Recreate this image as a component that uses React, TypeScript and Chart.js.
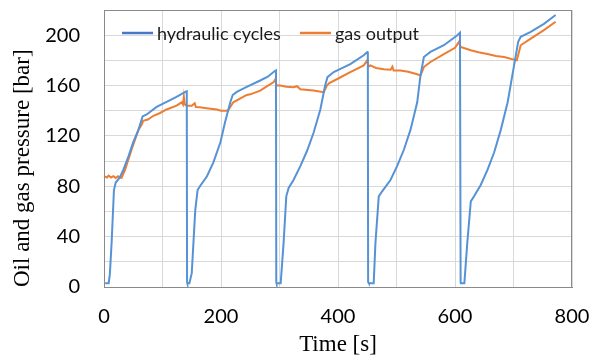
import React, { useEffect, useRef } from "react";
import { Chart, registerables } from "chart.js";

Chart.register(...registerables);

// ---- Data ----
const hydTime = [
  2, 8, 10, 13, 17, 20, 27, 33, 42, 50, 59, 66, 73, 90, 107, 124, 139, 141.5,
  142, 142.5, 146, 150, 156, 160, 164, 176, 187, 199, 207, 216, 220, 227, 244, 267, 280, 292, 294,
  294.5, 295, 302, 307, 311.6, 315.6, 324, 335.6, 347, 358.4, 369.8, 378, 382, 392.7, 421, 444, 450, 451,
  451.5, 452.7, 461, 464, 469.7, 475.5, 489.7, 501, 512.6, 524, 535.4, 541, 546.8, 558, 581, 604, 608.5,
  609.6, 610, 616, 621, 627, 632.6, 644, 655.5, 667, 678.4, 690, 701, 708, 712.3, 729.5, 752, 772,
];
const hydPressure = [
  3, 3, 10, 35, 77, 83, 87, 93, 104, 115, 125, 135.5, 137, 143, 147, 151, 155, 155.5,
  4, 3, 3, 11, 61, 77, 80, 88, 99, 115, 131, 147, 152.5, 155, 159, 164, 167, 171.5, 172,
  4, 3, 3, 35, 72, 78.7, 85, 96, 108, 122.7, 141, 160, 166.7, 170.7, 177, 184, 186.7, 187,
  4, 3, 3, 35, 72, 76, 85, 96, 109, 125, 146.7, 168, 182.7, 186.7, 192, 200, 202,
  4, 3, 3, 35, 68, 72, 81, 93, 107, 125, 146.7, 176, 194.7, 198.7, 202.7, 209, 216,
];

const gasTime = [
  0, 5, 8, 12, 16, 20, 24, 27, 30, 36, 47, 59, 64.5, 67, 75, 84.5, 95, 107, 124, 133, 135, 136.5, 138,
  141.5, 150, 155, 157, 164, 175, 193, 200, 210, 213, 221, 244, 250, 267, 290, 292.8, 295, 301, 312,
  324, 330, 335.6, 358, 375.6, 381, 385, 398, 421, 444, 450, 452, 455.5, 465, 478.3, 490, 493, 495,
  506.8, 520, 535.4, 541, 546.8, 558, 581, 600, 606.8, 609.6, 627, 640, 655.5, 670, 684, 705.7, 712.3,
  729.5, 752, 772,
];
const gasPressure = [
  88, 87, 88.5, 87, 88, 86.5, 88, 87, 86.7, 93, 109, 125, 129, 132, 133, 136, 138, 141, 144, 146.7, 145, 151, 145,
  144, 144, 146, 143, 142.7, 142, 141, 140, 140, 141, 146.7, 152.5, 153, 156, 162.7, 165, 160, 160, 159,
  158.7, 159.5, 157, 156, 154.7, 160, 162, 165, 170.7, 176, 180, 175, 176, 174, 173, 172.5, 175, 172,
  172, 171, 169, 168, 174.7, 178.7, 185, 190, 194.7, 190.7, 188, 186.5, 185, 183.5, 182.7, 180, 192,
  197.3, 204, 210.7,
];

const seriesLabels = ["hydraulic cycles", "gas output"];
const seriesColors = ["#5592d6", "#ED7D31"];
const legendColors = ["#4677c8", "#ED7D31"];

const xTitle = "Time [s]";
const yTitle = "Oil and gas pressure [bar]";

const toPoints = (xs: number[], ys: number[]) => xs.map((x, i) => ({ x, y: ys[i] }));

const frameAndLegend = {
  id: "frameAndLegend",
  afterDatasetsDraw(chart: any) {
    const { ctx, chartArea } = chart;
    const { left, top, right, bottom } = chartArea;
    ctx.save();
    ctx.strokeStyle = "#8a8a8a";
    ctx.lineWidth = 1;
    ctx.strokeRect(left + 0.5, top + 0.5, right - left - 1, bottom - top);
    const y = top + 23;
    const starts = [18, 196];
    ctx.font = "18px Lato";
    ctx.textBaseline = "middle";
    chart.data.datasets.forEach((ds: any, i: number) => {
      const x = left + starts[i];
      ctx.strokeStyle = legendColors[i];
      ctx.lineWidth = 2.5;
      ctx.beginPath();
      ctx.moveTo(x, y);
      ctx.lineTo(x + 31, y);
      ctx.stroke();
      ctx.fillStyle = "#1a1a1a";
      ctx.textAlign = "left";
      ctx.fillText(ds.label, x + 35, y + 1);
    });
    ctx.restore();
  },
};

export default function App() {
  const canvasRef = useRef<HTMLCanvasElement | null>(null);

  useEffect(() => {
    document.body.style.margin = "0";
    const canvas = canvasRef.current;
    if (!canvas) return;
    const chart = new Chart(canvas, {
      type: "scatter",
      data: {
        datasets: [
          {
            label: seriesLabels[0],
            data: toPoints(hydTime, hydPressure),
            showLine: true,
            borderColor: seriesColors[0],
            backgroundColor: seriesColors[0],
            borderWidth: 2,
            pointRadius: 0,
            tension: 0,
          },
          {
            label: seriesLabels[1],
            data: toPoints(gasTime, gasPressure),
            showLine: true,
            borderColor: seriesColors[1],
            backgroundColor: seriesColors[1],
            borderWidth: 2,
            pointRadius: 0,
            tension: 0,
          },
        ],
      },
      options: {
        animation: false,
        responsive: true,
        maintainAspectRatio: false,
        layout: { padding: { top: 10, right: 20, left: 0, bottom: 0 } },
        plugins: {
          legend: { display: false },
          tooltip: { enabled: false },
        },
        scales: {
          x: {
            type: "linear",
            min: 0,
            max: 800,
            afterFit: (s: any) => {
              s.height = 75;
            },
            grid: { color: "#d9d9d9", drawTicks: true, tickLength: 20, tickColor: "rgba(0,0,0,0)" },
            border: { display: true, color: "#8a8a8a" },
            ticks: {
              stepSize: 100,
              autoSkip: false,
              maxRotation: 0,
              padding: 0,
              color: "#000",
              font: { family: "Lato", size: 20, lineHeight: 1 },
              callback: (v: any) => (Number(v) % 200 === 0 ? String(v) : ""),
            },
            title: {
              display: true,
              text: xTitle,
              color: "#000",
              font: { family: "Liberation Serif", size: 23 },
              padding: { top: 0, bottom: 3 },
            },
          },
          y: {
            type: "linear",
            min: 0,
            max: 220,
            afterFit: (s: any) => {
              s.width = 104;
            },
            grid: { color: "#d9d9d9", drawTicks: true, tickLength: 24, tickColor: "rgba(0,0,0,0)" },
            border: { display: true, color: "#8a8a8a" },
            ticks: {
              stepSize: 20,
              autoSkip: false,
              padding: 0,
              color: "#000",
              font: { family: "Lato", size: 20, lineHeight: 1 },
              callback: (v: any) => (Number(v) % 40 === 0 ? String(v) : ""),
            },
            title: {
              display: true,
              text: yTitle,
              align: "start",
              color: "#000",
              font: { family: "Liberation Serif", size: 23 },
              padding: { top: 9, bottom: 0 },
            },
          },
        },
      },
      plugins: [frameAndLegend],
    });
    return () => chart.destroy();
  }, []);

  return (
    <div style={{ position: "relative", width: 592, height: 362 }}>
      <canvas ref={canvasRef} />
    </div>
  );
}
